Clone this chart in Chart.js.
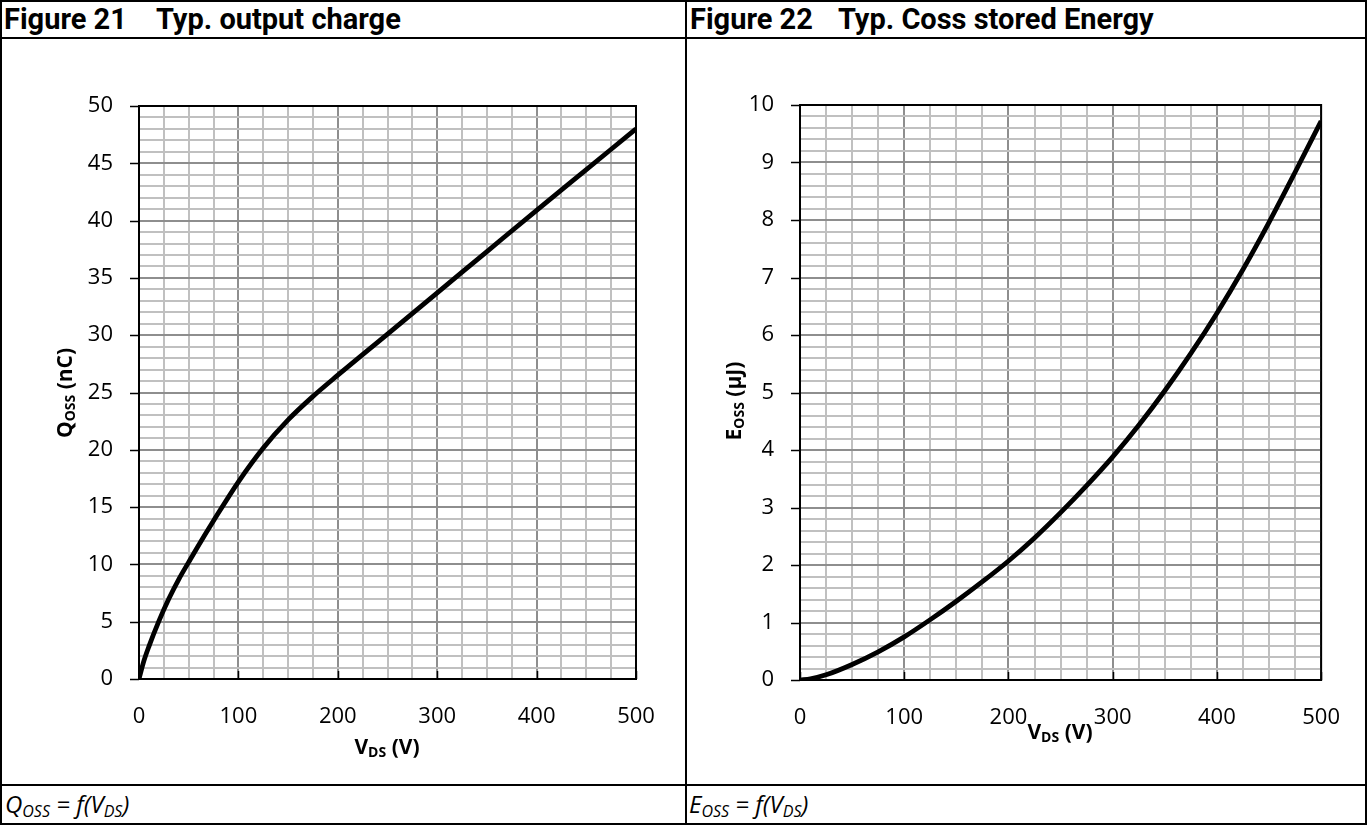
<!DOCTYPE html>
<html>
<head>
<meta charset="utf-8">
<script src="https://cdn.jsdelivr.net/npm/chart.js@4/dist/chart.umd.min.js"></script>
<style>
  body { margin: 0; background: #fff; }
  #page { position: relative; width: 1367px; height: 825px; overflow: hidden; background: #fff; }
  .ln { position: absolute; background: #000; }
  .title { position: absolute; font-family: "Liberation Sans Narrow", "Roboto", sans-serif; font-weight: bold; font-size: 29px; white-space: pre; line-height: 1; }
  .foot { position: absolute; font-family: "Open Sans", sans-serif; font-style: italic; font-size: 24px; white-space: pre; line-height: 1; }
  .foot sub { font-size: 16px; vertical-align: -4px; line-height: 1; }
  .cv { position: absolute; }
</style>
</head>
<body>
<div id="page">
  <div class="ln" style="left:0;top:0;width:1367px;height:2px"></div>
  <div class="ln" style="left:0;top:823px;width:1367px;height:2px"></div>
  <div class="ln" style="left:0;top:0;width:2px;height:825px"></div>
  <div class="ln" style="left:1365px;top:0;width:2px;height:825px"></div>
  <div class="ln" style="left:685px;top:0;width:2px;height:825px"></div>
  <div class="ln" style="left:0;top:37px;width:1367px;height:2px"></div>
  <div class="ln" style="left:0;top:784px;width:1367px;height:2px"></div>

  <div class="title" style="left:4px;top:5px">Figure 21</div>
  <div class="title" style="left:156px;top:5px">Typ. output charge</div>
  <div class="title" style="left:690px;top:5px">Figure 22</div>
  <div class="title" style="left:838px;top:5px">Typ. Coss stored Energy</div>

  <div class="foot" style="left:5px;top:792px">Q<sub>OSS</sub> = f(V<sub>DS</sub>)</div>
  <div class="foot" style="left:689px;top:792px">E<sub>OSS</sub> = f(V<sub>DS</sub>)</div>

  <div class="cv" style="left:2px;top:39px;width:683px;height:745px"><canvas id="c1"></canvas></div>
  <div class="cv" style="left:687px;top:39px;width:678px;height:745px"><canvas id="c2"></canvas></div>
</div>
<script>
// ---- data ----
const vdsQ = [0, 5, 10, 20, 30, 40, 50, 60, 75, 100, 125, 150, 175, 200, 250, 300, 350, 400, 450, 500];
const qoss = [0, 1.6, 2.85, 5.05, 7.0, 8.7, 10.2, 11.68, 13.81, 17.21, 20.16, 22.61, 24.66, 26.51, 30.1, 33.7, 37.3, 40.9, 44.45, 48.0];

const vdsE = [0, 10, 25, 50, 75, 100, 125, 150, 175, 200, 225, 250, 275, 300, 325, 350, 375, 400, 425, 450, 475, 500];
const eoss = [0, 0.02, 0.09, 0.27, 0.49, 0.75, 1.05, 1.37, 1.71, 2.07, 2.47, 2.91, 3.38, 3.88, 4.43, 5.03, 5.68, 6.38, 7.14, 7.96, 8.83, 9.72];

const xTickLabels = [0, 100, 200, 300, 400, 500];
const qTickLabels = [0, 5, 10, 15, 20, 25, 30, 35, 40, 45, 50];
const eTickLabels = [0, 1, 2, 3, 4, 5, 6, 7, 8, 9, 10];

const MINOR = '#c0c0c0', MAJOR = '#8e8e8e';
const isIn = (arr, v) => arr.some(a => Math.abs(a - v) < 1e-6);

function sheetPlugin(opts) {
  return {
    id: 'sheet',
    beforeDatasetsDraw(chart) {
      const { ctx, chartArea: a } = chart;
      ctx.save();
      ctx.strokeStyle = '#000';
      ctx.lineWidth = 2;
      ctx.strokeRect(a.left, a.top, a.right - a.left, a.bottom - a.top);
      ctx.lineWidth = 1.5;
      const ys = chart.scales.y, xs = chart.scales.x;
      opts.yLabels.forEach(v => {
        const y = Math.round(ys.getPixelForValue(v)) + 0.5;
        ctx.beginPath(); ctx.moveTo(a.left - 9, y); ctx.lineTo(a.left, y); ctx.stroke();
      });
      xTickLabels.forEach(v => {
        const x = Math.round(xs.getPixelForValue(v)) + 0.5;
        ctx.beginPath(); ctx.moveTo(x, a.bottom); ctx.lineTo(x, a.bottom - 8); ctx.stroke();
      });
      ctx.restore();
    },
    afterDraw(chart) {
      const { ctx } = chart;
      drawSub(ctx, opts.xTitle, opts.xTitlePos[0], opts.xTitlePos[1], false);
      drawSub(ctx, opts.yTitle, opts.yTitlePos[0], opts.yTitlePos[1], true);
    }
  };
}

function drawSub(ctx, parts, cx, cy, rot) {
  const main = 'bold 21px "Open Sans"', sub = 'bold 14px "Open Sans"';
  ctx.save();
  let w = 0;
  parts.forEach(p => { ctx.font = p.s ? sub : main; w += ctx.measureText(p.t).width; });
  ctx.translate(cx, cy);
  if (rot) ctx.rotate(-Math.PI / 2);
  ctx.fillStyle = '#000';
  ctx.textBaseline = 'middle';
  ctx.textAlign = 'left';
  let x = -w / 2;
  parts.forEach(p => {
    ctx.font = p.s ? sub : main;
    ctx.fillText(p.t, x, p.s ? 5 : 0);
    x += ctx.measureText(p.t).width;
  });
  ctx.restore();
}

function makeChart(id, xs, ys, cfg) {
  const pts = xs.map((v, i) => ({ x: v, y: ys[i] }));
  return new Chart(document.getElementById(id), {
    type: 'line',
    data: { datasets: [{ data: pts, borderColor: '#000', borderWidth: 4.8, pointRadius: 0, cubicInterpolationMode: 'monotone', fill: false }] },
    options: {
      responsive: true, maintainAspectRatio: false, animation: false,
      devicePixelRatio: 1,
      layout: { padding: { left: 0, right: cfg.padRight, top: cfg.padTop, bottom: 0 } },
      plugins: { legend: { display: false }, tooltip: { enabled: false } },
      scales: {
        x: {
          type: 'linear', min: 0, max: 500,
          afterFit: s => { s.height = cfg.xHeight; },
          border: { display: false },
          grid: { drawTicks: false, lineWidth: 2, color: c => isIn(xTickLabels, c.tick.value) ? MAJOR : MINOR },
          ticks: { stepSize: 25, autoSkip: false, maxTicksLimit: 1000, maxRotation: 0, padding: 25, color: '#000',
                   font: { family: 'Open Sans', size: 22 },
                   callback: v => isIn(xTickLabels, v) ? String(Math.round(v)) : '' }
        },
        y: {
          type: 'linear', min: 0, max: cfg.yMax,
          afterFit: s => { s.width = cfg.yWidth; },
          border: { display: false },
          grid: { drawTicks: false, lineWidth: 2, color: c => isIn(cfg.yLabels, c.tick.value) ? MAJOR : MINOR },
          ticks: { stepSize: cfg.yStep, autoSkip: false, maxTicksLimit: 1000, padding: 26, color: '#000',
                   font: { family: 'Open Sans', size: 22 },
                   callback: v => isIn(cfg.yLabels, v) ? String(Math.round(v)) : '' }
        }
      }
    },
    plugins: [sheetPlugin(cfg)]
  });
}

makeChart('c1', vdsQ, qoss, {
  padRight: 49, padTop: 67, xHeight: 105, yWidth: 137, yMax: 50, yStep: 1, yLabels: qTickLabels,
  xTitle: [{ t: 'V' }, { t: 'DS', s: true }, { t: ' (V)' }], xTitlePos: [385, 709],
  yTitle: [{ t: 'Q' }, { t: 'OSS', s: true }, { t: ' (nC)' }], yTitlePos: [64, 354]
});
makeChart('c2', vdsE, eoss, {
  padRight: 38, padTop: 66, xHeight: 104, yWidth: 113, yMax: 10, yStep: 0.2, yLabels: eTickLabels,
  xTitle: [{ t: 'V' }, { t: 'DS', s: true }, { t: ' (V)' }], xTitlePos: [373, 694],
  yTitle: [{ t: 'E' }, { t: 'OSS', s: true }, { t: ' (µJ)' }], yTitlePos: [48, 362]
});
</script>
</body>
</html>
